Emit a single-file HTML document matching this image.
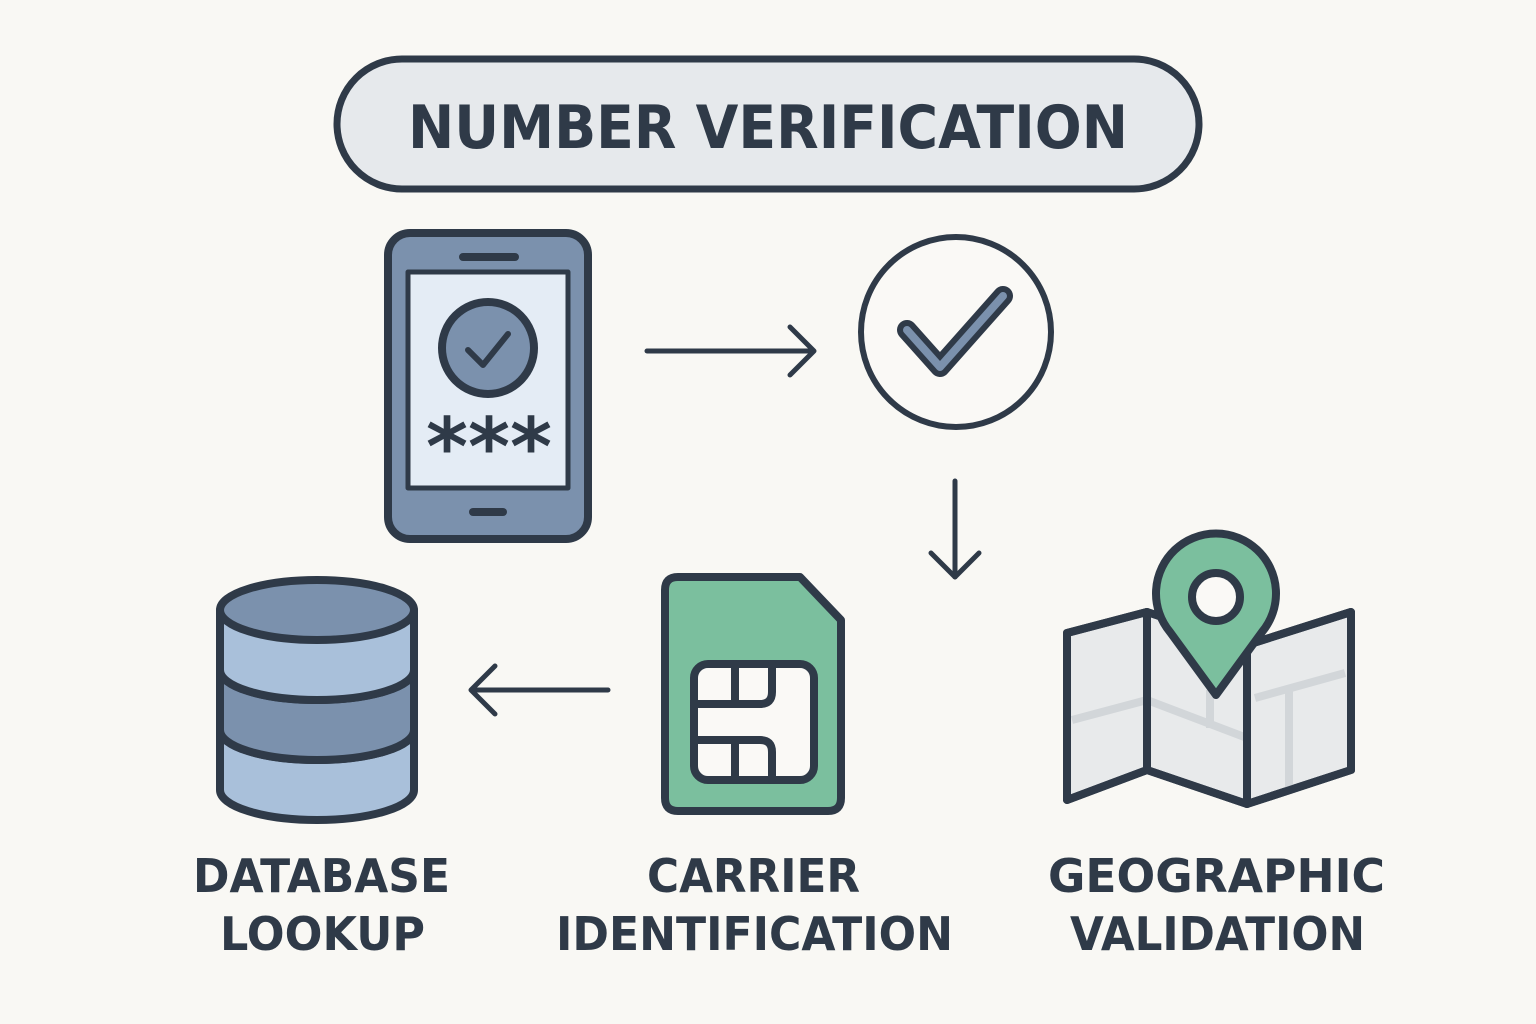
<!DOCTYPE html>
<html><head><style>
html,body{margin:0;padding:0;background:#f9f8f4;}
svg{display:block;}
text{font-family:"DejaVu Sans","Liberation Sans",sans-serif;font-weight:bold;fill:#2f3a48;}
</style></head><body>
<svg width="1536" height="1024" viewBox="0 0 1536 1024" xmlns="http://www.w3.org/2000/svg">
<rect width="1536" height="1024" fill="#f9f8f4"/>
<g stroke="#2f3a48" stroke-width="8" stroke-linecap="round" stroke-linejoin="round">
<rect x="337" y="59" width="862" height="130" rx="65" fill="#e6e9ec" stroke-width="7"/>
<rect x="388" y="233" width="200" height="306" rx="22" fill="#7b91ad"/>
<rect x="408" y="272" width="160" height="216" fill="#e4ecf5" stroke-width="5"/>
<line x1="463" y1="257" x2="515" y2="257"/>
<line x1="473" y1="512" x2="503" y2="512"/>
<circle cx="488" cy="348" r="46" fill="#7b91ad"/>
<polyline points="468,350 483,365 508,334" fill="none" stroke-width="6"/>
<line x1="647" y1="351" x2="813" y2="351" stroke-width="5"/>
<polyline points="790,327 814,351 790,375" fill="none" stroke-width="5"/>
<circle cx="956" cy="332" r="95" fill="#faf9f6" stroke-width="6"/>
<polyline points="907,330 940,367 1003,296" fill="none" stroke-width="20"/>
<polyline points="907,330 940,367 1003,296" fill="none" stroke="#7b91ad" stroke-width="8"/>
<line x1="955" y1="481" x2="955" y2="577" stroke-width="5"/>
<polyline points="931,553 955,577 979,553" fill="none" stroke-width="5"/>
<line x1="608" y1="690" x2="472" y2="690" stroke-width="5"/>
<polyline points="495,666 471,690 495,714" fill="none" stroke-width="5"/>
<path d="M220,730 L220,790 A97,30 0 0 0 414,790 L414,730 A97,30 0 0 1 220,730 Z" fill="#a9c0da"/>
<path d="M220,670 L220,730 A97,30 0 0 0 414,730 L414,670 A97,30 0 0 1 220,670 Z" fill="#7b91ad"/>
<path d="M220,610 L220,670 A97,30 0 0 0 414,670 L414,610 Z" fill="#a9c0da"/>
<ellipse cx="317" cy="610" rx="97" ry="30" fill="#7b91ad"/>
<path d="M678,577 L800,577 L841,620 L841,798 Q841,811 828,811 L678,811 Q665,811 665,798 L665,590 Q665,577 678,577 Z" fill="#7bbf9e"/>
<rect x="694" y="664" width="120" height="116" rx="14" fill="#faf9f6"/>
<line x1="735" y1="664" x2="735" y2="704"/>
<line x1="735" y1="740" x2="735" y2="780"/>
<path d="M694,704 L760,704 Q772,704 772,692 L772,664" fill="none"/>
<path d="M694,740 L760,740 Q772,740 772,752 L772,780" fill="none"/>
<polygon points="1067,633 1147,612 1247,645 1351,612 1351,770 1247,804 1147,770 1067,800" fill="#e8eaeb"/>
<path d="M1072,720 L1147,700 L1247,738 M1255,698 L1345,673 M1289,688 L1289,790 M1210,690 L1210,728" fill="none" stroke="#d2d6d9" stroke-width="8" stroke-linecap="butt"/>
<polygon points="1067,633 1147,612 1247,645 1351,612 1351,770 1247,804 1147,770 1067,800" fill="none"/>
<line x1="1147" y1="612" x2="1147" y2="770"/>
<line x1="1247" y1="645" x2="1247" y2="804"/>
<path d="M1216,695 L1170,632 A60,60 0 1 1 1262,632 Z" fill="#7bbf9e"/>
<circle cx="1216" cy="597" r="24" fill="#faf9f6"/>
</g>
<text x="426" y="475" font-size="80" textLength="126" lengthAdjust="spacingAndGlyphs">***</text>
<text x="408" y="148" font-size="60" textLength="720" lengthAdjust="spacingAndGlyphs" font-weight="600">NUMBER VERIFICATION</text>
<text x="193" y="892" font-size="46" textLength="257" lengthAdjust="spacingAndGlyphs">DATABASE</text>
<text x="220" y="950" font-size="46" textLength="205" lengthAdjust="spacingAndGlyphs">LOOKUP</text>
<text x="647" y="892" font-size="46" textLength="213" lengthAdjust="spacingAndGlyphs">CARRIER</text>
<text x="556" y="950" font-size="46" textLength="397" lengthAdjust="spacingAndGlyphs">IDENTIFICATION</text>
<text x="1048" y="892" font-size="46" textLength="337" lengthAdjust="spacingAndGlyphs">GEOGRAPHIC</text>
<text x="1070" y="950" font-size="46" textLength="295" lengthAdjust="spacingAndGlyphs">VALIDATION</text>
</svg>
</body></html>
